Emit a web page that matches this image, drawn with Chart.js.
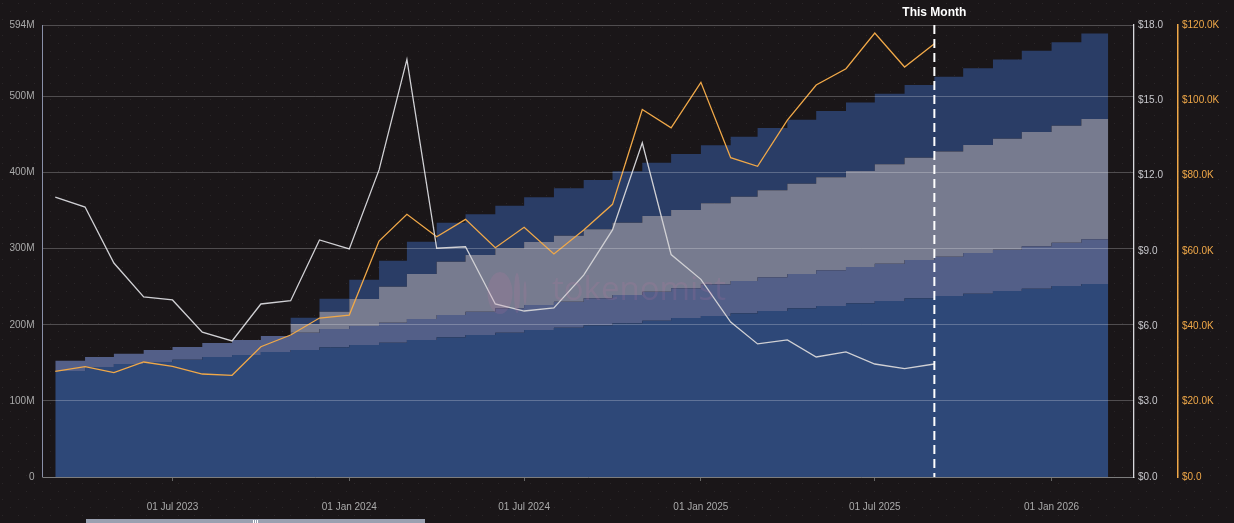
<!DOCTYPE html>
<html>
<head>
<meta charset="utf-8">
<title>Supply and price</title>
<script src="https://cdn.jsdelivr.net/npm/chart.js@4"></script>
<style>
    html, body { margin: 0; padding: 0; background: #1a1618; overflow: hidden; }
    canvas { display: block; }
</style>
</head>
<body>
<canvas id="supplyChart" width="1234" height="523"></canvas>
<script>
// months on the axis, plus the closing edge of the last step
const months = [
    "2023-03", "2023-04", "2023-05", "2023-06", "2023-07", "2023-08", "2023-09", "2023-10", "2023-11", "2023-12",
    "2024-01", "2024-02", "2024-03", "2024-04", "2024-05", "2024-06", "2024-07", "2024-08", "2024-09", "2024-10",
    "2024-11", "2024-12", "2025-01", "2025-02", "2025-03", "2025-04", "2025-05", "2025-06", "2025-07", "2025-08",
    "2025-09", "2025-10", "2025-11", "2025-12", "2026-01", "2026-02",
];
const closingMonth = "2026-03";
const thisMonth = "2025-09";
const xTickMonths = ["2023-07", "2024-01", "2024-07", "2025-01", "2025-07", "2026-01"];
const xTickLabels = ["01 Jul 2023", "01 Jan 2024", "01 Jul 2024", "01 Jan 2025", "01 Jul 2025", "01 Jan 2026"];
const leftTicks = [0, 100, 200, 300, 400, 500, 594];

// stacked bands, millions of tokens per month
const baseBand = [
    139.3, 144.6, 148.5, 151.1, 154.2, 157.7, 160.3, 164.3, 166.9, 170.5, 173.5, 176.5,
    180, 183.6, 186.6, 189.6, 193.2, 196.2, 199.4, 202, 205.4, 209, 211.6, 215.1,
    218.2, 221.7, 224.7, 228.3, 231.3, 234.9, 237.9, 240.9, 244.4, 247.5, 251, 253.6,
];
const purpleBand = [
    13.5, 13.1, 13.5, 15.8, 16.7, 18.4, 19.7, 21, 22.7, 24, 24.9, 26.3,
    27.6, 29.3, 30.6, 32.1, 32.8, 34.2, 35.5, 37.2, 38.1, 39, 41.7, 42.5,
    44.3, 45.1, 47, 47.7, 49, 50.3, 51.6, 53.5, 54.3, 55.7, 56.9, 58.8,
];
const greyBand = [
    0, 0, 0, 0, 0, 0, 0, 0, 11.5, 22.7, 35.5, 47.3,
    59.2, 70.1, 74.6, 78.9, 82.8, 86.7, 90.6, 95, 99.5, 102.9, 106.4, 110.8,
    114.3, 118.7, 122.2, 126.2, 130.7, 134.5, 138.1, 141.9, 145.9, 150.2, 153.8, 158.1,
];
const navyBand = [
    0, 0, 0, 0, 0, 0, 0, 0, 8.3, 17.1, 25.4, 34.2,
    42.4, 51.2, 53.4, 55.9, 58.7, 62.3, 64.8, 67.5, 70, 73.6, 76.2, 78.8,
    81.8, 84, 87, 90.1, 92.6, 95.3, 98.3, 101, 104.1, 106.6, 109.7, 112.3,
];

// price lines, stop at this month
const tokenPrice = [
    11.15, 10.75, 8.52, 7.17, 7.05, 5.77, 5.42, 6.89, 7.02, 9.44, 9.08, 12.23,
    16.63, 9.11, 9.17, 6.89, 6.61, 6.73, 8.04, 9.84, 13.31, 8.86, 7.87, 6.17,
    5.30, 5.46, 4.78, 4.98, 4.50, 4.32, 4.50,
];
const btcPrice = [
    28060, 29280, 27690, 30530, 29390, 27340, 27000, 34590, 37700, 42210, 43000, 62650,
    69740, 63790, 68410, 60870, 66290, 59200, 65570, 72390, 97560, 92700, 104780, 84760,
    82480, 94770, 104060, 108390, 117870, 108840, 115030,
];

// x is days since the first month, so the axis keeps the real month lengths
function dayOf(month) {
    const parts = month.split("-");
    return (Date.UTC(+parts[0], +parts[1] - 1, 1) - Date.UTC(2023, 2, 1)) / 86400000;
}

function stepPoints(values) {
    let points = values.map((v, i) => ({x: dayOf(months[i]), y: v}));
    points.push({x: dayOf(closingMonth), y: values[values.length - 1]});
    return points;
}

function linePoints(values) {
    return values.map((v, i) => ({x: dayOf(months[i]), y: v}));
}

function band(values, color, fill) {
    return {
        data: stepPoints(values),
        stepped: "before",
        backgroundColor: color,
        borderWidth: 0,
        fill: fill,
        pointRadius: 0,
        yAxisID: "y",
        stack: "supply",
        order: 1,
    };
}

function priceLine(values, color, axis) {
    return {
        data: linePoints(values),
        borderColor: color,
        borderWidth: 1.3,
        tension: 0,
        fill: false,
        pointRadius: 0,
        yAxisID: axis,
        order: 0,
    };
}

const labelFont = {family: "'Liberation Sans', Arial, sans-serif", size: 10};

// dotted page background
const backdrop = {
    id: "backdrop",
    beforeDraw(chart) {
        const ctx = chart.ctx;
        const tile = document.createElement("canvas");
        tile.width = 16;
        tile.height = 16;
        const t = tile.getContext("2d");
        t.fillStyle = "#1a1618";
        t.fillRect(0, 0, 16, 16);
        t.fillStyle = "rgba(255,255,255,0.07)";
        t.fillRect(2, 3, 1, 1);
        t.fillRect(10, 11, 1, 1);
        ctx.save();
        ctx.fillStyle = ctx.createPattern(tile, "repeat");
        ctx.fillRect(0, 0, chart.width, chart.height);
        ctx.restore();
    },
};

// left axis line, watermark, this month marker and the zoom slider
const overlays = {
    id: "overlays",
    afterDatasetsDraw(chart) {
        const ctx = chart.ctx;
        const area = chart.chartArea;
        const xNow = chart.scales.x.getPixelForValue(dayOf(thisMonth));

        ctx.save();
        ctx.strokeStyle = "#8a90a8";
        ctx.lineWidth = 1;
        ctx.beginPath();
        ctx.moveTo(42.5, area.top);
        ctx.lineTo(42.5, area.bottom);
        ctx.stroke();

        ctx.fillStyle = "rgba(214,120,170,0.14)";
        ctx.beginPath();
        ctx.ellipse(500, 293, 12.5, 21, 0, 0, Math.PI * 2);
        ctx.ellipse(517, 293, 3, 20, 0, 0, Math.PI * 2);
        ctx.ellipse(525, 293, 1.5, 12, 0, 0, Math.PI * 2);
        ctx.fill();
        ctx.font = "33px 'Open Sans', sans-serif";
        ctx.textAlign = "left";
        ctx.textBaseline = "middle";
        ctx.fillText("tokenomist", 552, 291);

        ctx.strokeStyle = "#ffffff";
        ctx.lineWidth = 2;
        ctx.setLineDash([9, 5]);
        ctx.beginPath();
        ctx.moveTo(xNow, area.top);
        ctx.lineTo(xNow, area.bottom);
        ctx.stroke();
        ctx.setLineDash([]);

        ctx.fillStyle = "#ffffff";
        ctx.font = "bold 12px 'Liberation Sans', Arial, sans-serif";
        ctx.textAlign = "center";
        ctx.textBaseline = "middle";
        ctx.fillText("This Month", xNow, 13);

        ctx.fillStyle = "#9aa0b0";
        ctx.fillRect(86, 519, 339, 4);
        ctx.fillStyle = "#ffffff";
        ctx.fillRect(253, 520, 1, 3);
        ctx.fillRect(255, 520, 1, 3);
        ctx.fillRect(257, 520, 1, 3);
        ctx.restore();
    },
};

new Chart(document.getElementById("supplyChart"), {
    type: "line",
    data: {
        datasets: [
            band(baseBand, "#2e4878", "origin"),
            band(purpleBand, "#535f88", "-1"),
            band(greyBand, "#777b8f", "-1"),
            band(navyBand, "#2a3d66", "-1"),
            priceLine(tokenPrice, "#d0d0d4", "y1"),
            priceLine(btcPrice, "#f0a848", "y2"),
        ],
    },
    plugins: [backdrop, overlays],
    options: {
        responsive: false,
        animation: false,
        layout: {padding: {top: 25, left: 0, right: 0, bottom: 0}},
        plugins: {
            legend: {display: false},
            tooltip: {enabled: false},
        },
        scales: {
            x: {
                type: "linear",
                min: -13.3,
                max: 1122.8,
                afterFit: (scale) => { scale.height = 46; },
                afterBuildTicks: (scale) => {
                    scale.ticks = xTickMonths.map((m) => ({value: dayOf(m)}));
                },
                grid: {drawOnChartArea: false, tickLength: 4, tickColor: "#666"},
                border: {color: "#555"},
                ticks: {
                    color: "#aaa",
                    font: labelFont,
                    padding: 20,
                    maxRotation: 0,
                    autoSkip: false,
                    callback: (v) => xTickLabels[xTickMonths.findIndex((m) => dayOf(m) === v)],
                },
            },
            y: {
                position: "left",
                stacked: true,
                min: 0,
                max: 594,
                afterFit: (scale) => { scale.width = 42.5; },
                afterBuildTicks: (scale) => {
                    scale.ticks = leftTicks.map((v) => ({value: v}));
                },
                grid: {color: "rgba(255,255,255,0.24)", z: 1, drawTicks: false},
                border: {display: false},
                ticks: {
                    color: "#aaa",
                    font: labelFont,
                    padding: 8,
                    autoSkip: false,
                    callback: (v) => (v === 0 ? "0" : v + "M"),
                },
            },
            y1: {
                position: "right",
                min: 0,
                max: 18,
                afterFit: (scale) => { scale.width = 44; },
                grid: {drawOnChartArea: false, drawTicks: false},
                border: {color: "#d8d8dc", width: 1.3},
                ticks: {
                    stepSize: 3,
                    color: "#c8c8cc",
                    font: labelFont,
                    padding: 4,
                    callback: (v) => "$" + v.toFixed(1),
                },
            },
            y2: {
                position: "right",
                min: 0,
                max: 120000,
                afterFit: (scale) => { scale.width = 56; },
                grid: {drawOnChartArea: false, drawTicks: false},
                border: {color: "#f0a848", width: 1.5},
                ticks: {
                    stepSize: 20000,
                    color: "#f0a848",
                    font: labelFont,
                    padding: 4,
                    callback: (v) => (v === 0 ? "$0.0" : "$" + (v / 1000).toFixed(1) + "K"),
                },
            },
        },
    },
});
</script>
</body>
</html>
